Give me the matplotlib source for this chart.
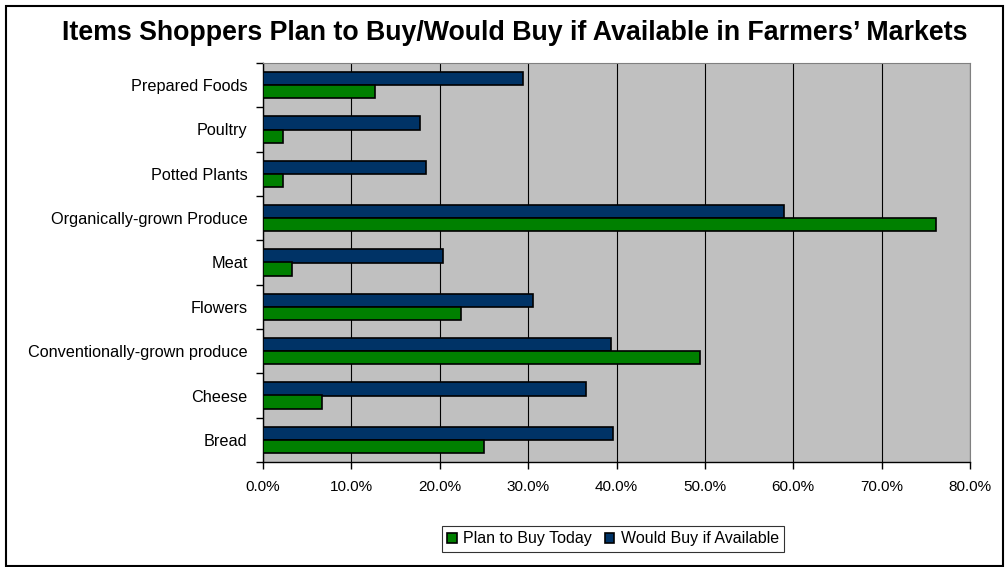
import matplotlib.pyplot as plt
import numpy as np
from matplotlib.patches import Rectangle
from matplotlib.ticker import FuncFormatter

# Data (percent)
categories = ['Bread', 'Cheese', 'Conventionally-grown produce', 'Flowers', 'Meat',
              'Organically-grown Produce', 'Potted Plants', 'Poultry', 'Prepared Foods']
plan_today = [25.0, 6.7, 49.5, 22.4, 3.3, 76.2, 2.3, 2.3, 12.7]
would_buy = [39.6, 36.6, 39.4, 30.5, 20.4, 59.0, 18.4, 17.8, 29.4]
x_ticks = [0, 10, 20, 30, 40, 50, 60, 70, 80]

plt.rcParams['font.family'] = ['Liberation Sans', 'DejaVu Sans']

fig = plt.figure(figsize=(10.08, 5.67), dpi=100)
ax = fig.add_axes([263/1008, 1 - 462/567, (970-263)/1008, (462-63)/567])

y = np.arange(len(categories))
h = 0.3
ax.barh(y + h/2, would_buy, height=h, color='#003366', edgecolor='black',
        linewidth=1.2, label='Would Buy if Available', zorder=3)
ax.barh(y - h/2, plan_today, height=h, color='#008000', edgecolor='black',
        linewidth=1.2, label='Plan to Buy Today', zorder=3)

ax.set_facecolor('#C0C0C0')
ax.set_xlim(0, 80)
ax.set_ylim(-0.5, len(categories) - 0.5)
ax.set_xticks(x_ticks)
ax.xaxis.set_major_formatter(FuncFormatter(lambda v, p: f'{v:.1f}%'))
ax.grid(axis='x', color='black', linewidth=0.8, zorder=1)

ax.set_yticks(y)
ax.set_yticklabels(categories)
ax.set_yticks(np.arange(-0.5, len(categories)), minor=True)
ax.tick_params(axis='y', which='major', length=0, pad=11, labelsize=11.7)
ax.tick_params(axis='y', which='minor', length=5, width=1, color='black')
ax.tick_params(axis='x', length=5, width=1, labelsize=11, pad=8)

for side in ['top', 'right']:
    ax.spines[side].set_color('#808080')
ax.spines['left'].set_linewidth(1)
ax.spines['bottom'].set_linewidth(1)

fig.text(515/1008, 1 - 33/567, 'Items Shoppers Plan to Buy/Would Buy if Available in Farmers\u2019 Markets',
         ha='center', va='center', fontsize=19.3, fontweight='bold')

handles, labels = ax.get_legend_handles_labels()
leg = fig.legend(handles[::-1], labels[::-1], ncol=2, loc='center',
                 bbox_to_anchor=(613/1008, 1 - 539/567), fontsize=11.5,
                 frameon=True, fancybox=False, edgecolor='black',
                 handlelength=0.6, handleheight=0.6, handletextpad=0.4,
                 columnspacing=0.8, borderpad=0.35)
leg.get_frame().set_linewidth(0.8)

fig.patches.append(Rectangle((6/1008, 1/567), 997/1008, 560/567, transform=fig.transFigure,
                             fill=False, edgecolor='black', linewidth=1.5))

fig.savefig('out.png', dpi=100)
